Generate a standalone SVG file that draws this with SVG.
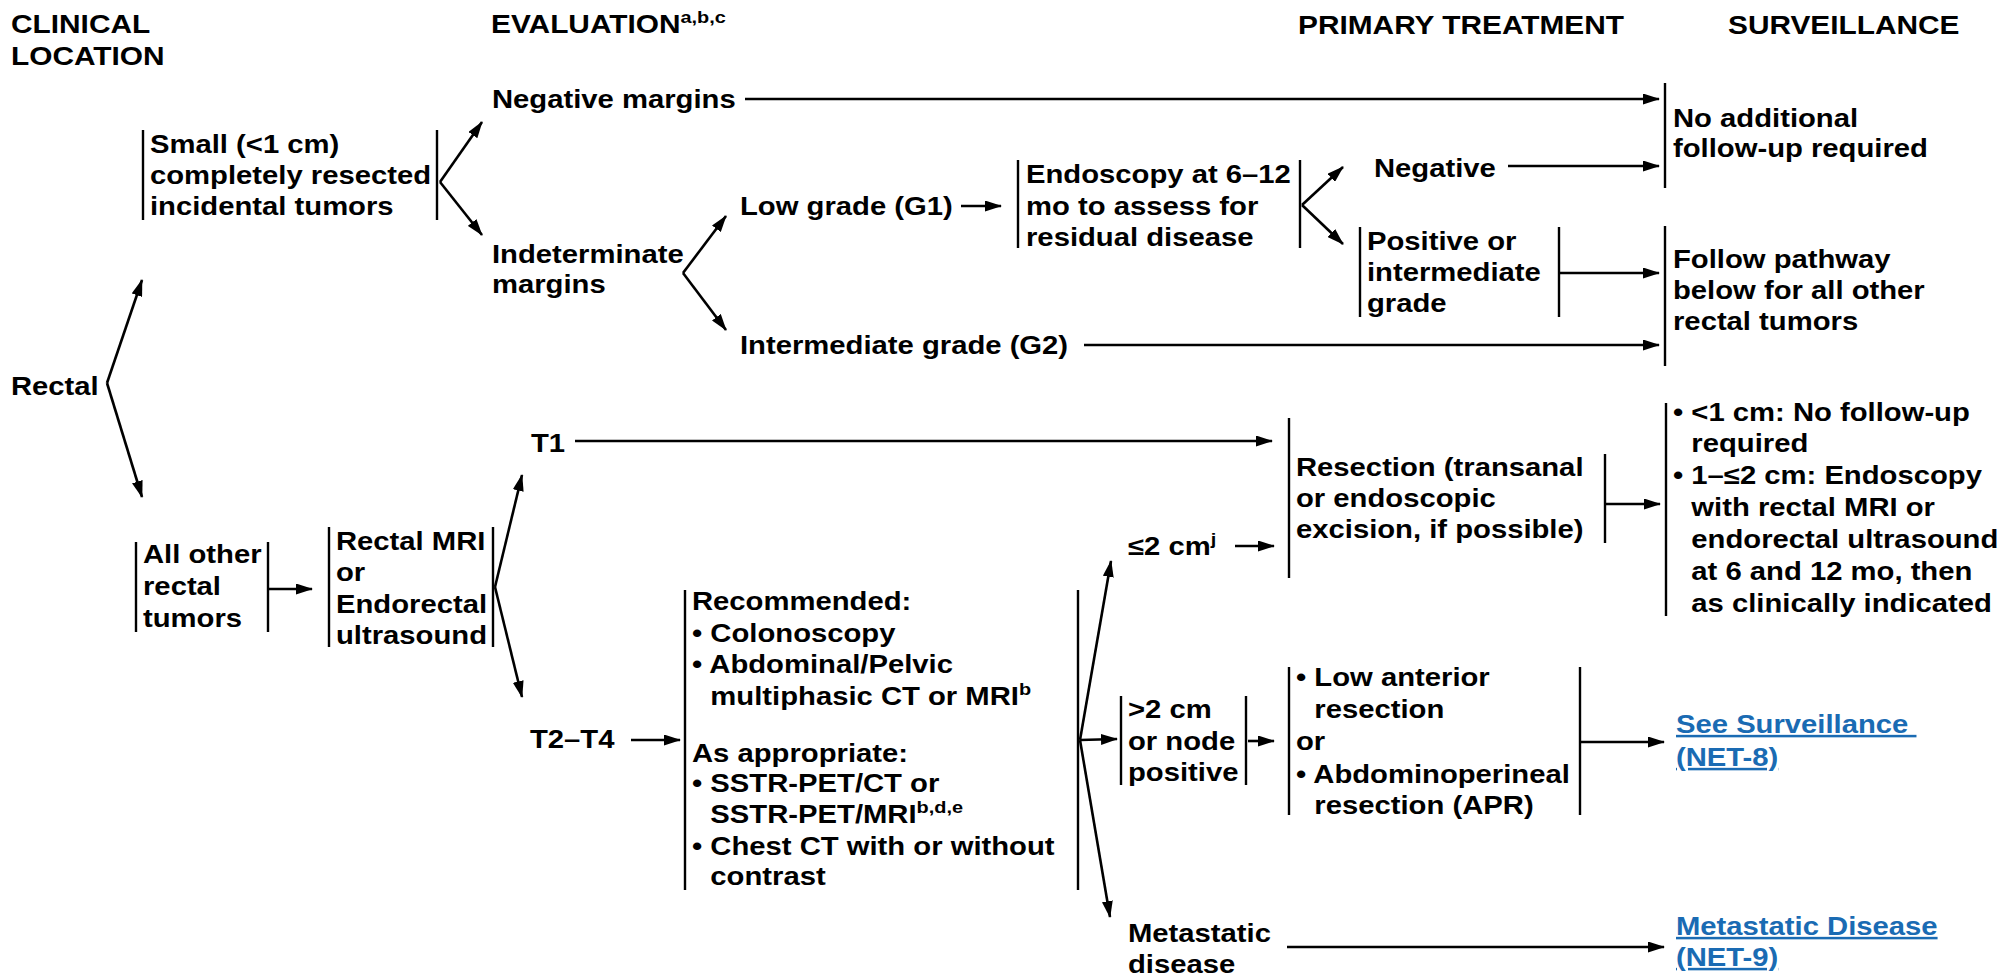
<svg xmlns="http://www.w3.org/2000/svg" width="2003" height="973" viewBox="0 0 2003 973">
<style>
  text { font-family: "Liberation Sans", Arial, sans-serif; font-weight: bold; fill: #000; }
  .t { font-size: 25px; }
  .h { font-size: 25.5px; }
  .sup { font-size: 17px; }
  .lnk { fill: #1a6bb3; text-decoration: underline; }
  .bar { stroke: #000; stroke-width: 2.4; fill: none; }
  .c { stroke: #000; stroke-width: 2.6; fill: none; marker-end: url(#ah); }
</style>
<defs>
  <marker id="ah" viewBox="0 0 17 11" refX="16" refY="5.5" markerWidth="17" markerHeight="11" markerUnits="userSpaceOnUse" orient="auto">
    <path d="M0,0 L17,5.5 L0,11 z" fill="#000"/>
  </marker>
</defs>
<rect width="2003" height="973" fill="#fff"/>

<g id="headers">
  <text class="h" transform="translate(11,33) scale(1.17,1)"><tspan x="0" y="0">CLINICAL</tspan><tspan x="0" y="32">LOCATION</tspan></text>
  <text class="h" transform="translate(491,33) scale(1.17,1)">EVALUATION<tspan class="sup" dy="-10">a,b,c</tspan></text>
  <text class="h" transform="translate(1298,34) scale(1.17,1)">PRIMARY TREATMENT</text>
  <text class="h" transform="translate(1728,34) scale(1.17,1)">SURVEILLANCE</text>
</g>

<g id="n-rectal">
  <text class="t" transform="translate(11,395) scale(1.17,1)">Rectal</text>
</g>

<g id="n-small">
  <line class="bar" x1="143" y1="130" x2="143" y2="220"/>
  <line class="bar" x1="437" y1="130" x2="437" y2="220"/>
  <text class="t" transform="translate(150,153) scale(1.17,1)"><tspan x="0" y="0">Small (&lt;1 cm)</tspan><tspan x="0" y="31">completely resected</tspan><tspan x="0" y="62">incidental tumors</tspan></text>
</g>

<g id="n-negmargins">
  <text class="t" transform="translate(492,108) scale(1.17,1)">Negative margins</text>
</g>

<g id="n-indeterminate">
  <text class="t" transform="translate(492,263) scale(1.17,1)"><tspan x="0" y="0">Indeterminate</tspan><tspan x="0" y="30">margins</tspan></text>
</g>

<g id="n-lowgrade">
  <text class="t" transform="translate(740,215) scale(1.17,1)">Low grade (G1)</text>
</g>

<g id="n-intgrade">
  <text class="t" transform="translate(740,354) scale(1.17,1)">Intermediate grade (G2)</text>
</g>

<g id="n-endoscopy">
  <line class="bar" x1="1018" y1="160" x2="1018" y2="248"/>
  <line class="bar" x1="1300" y1="160" x2="1300" y2="248"/>
  <text class="t" transform="translate(1026,183) scale(1.17,1)"><tspan x="0" y="0">Endoscopy at 6–12</tspan><tspan x="0" y="32">mo to assess for</tspan><tspan x="0" y="63">residual disease</tspan></text>
</g>

<g id="n-negative">
  <text class="t" transform="translate(1374,177) scale(1.17,1)">Negative</text>
</g>

<g id="n-positive">
  <line class="bar" x1="1360" y1="227" x2="1360" y2="317"/>
  <line class="bar" x1="1559" y1="227" x2="1559" y2="317"/>
  <text class="t" transform="translate(1367,250) scale(1.17,1)"><tspan x="0" y="0">Positive or</tspan><tspan x="0" y="31">intermediate</tspan><tspan x="0" y="62">grade</tspan></text>
</g>

<g id="n-noadditional">
  <line class="bar" x1="1665" y1="83" x2="1665" y2="188"/>
  <text class="t" transform="translate(1673,127) scale(1.17,1)"><tspan x="0" y="0">No additional</tspan><tspan x="0" y="30">follow-up required</tspan></text>
</g>

<g id="n-followpathway">
  <line class="bar" x1="1665" y1="226" x2="1665" y2="366"/>
  <text class="t" transform="translate(1673,268) scale(1.17,1)"><tspan x="0" y="0">Follow pathway</tspan><tspan x="0" y="31">below for all other</tspan><tspan x="0" y="62">rectal tumors</tspan></text>
</g>

<g id="n-allother">
  <line class="bar" x1="136" y1="542" x2="136" y2="632"/>
  <line class="bar" x1="268" y1="542" x2="268" y2="632"/>
  <text class="t" transform="translate(143,563) scale(1.17,1)"><tspan x="0" y="0">All other</tspan><tspan x="0" y="32">rectal</tspan><tspan x="0" y="64">tumors</tspan></text>
</g>

<g id="n-mri">
  <line class="bar" x1="329" y1="527" x2="329" y2="647"/>
  <line class="bar" x1="493" y1="527" x2="493" y2="647"/>
  <text class="t" transform="translate(336,550) scale(1.17,1)"><tspan x="0" y="0">Rectal MRI</tspan><tspan x="0" y="31">or</tspan><tspan x="0" y="63">Endorectal</tspan><tspan x="0" y="94">ultrasound</tspan></text>
</g>

<g id="n-t1">
  <text class="t" transform="translate(531,452) scale(1.17,1)">T1</text>
</g>

<g id="n-t2t4">
  <text class="t" transform="translate(530,748) scale(1.17,1)">T2–T4</text>
</g>

<g id="n-workup">
  <line class="bar" x1="685" y1="590" x2="685" y2="890"/>
  <line class="bar" x1="1078" y1="590" x2="1078" y2="890"/>
  <text class="t" transform="translate(692,610) scale(1.17,1)">
    <tspan x="0" y="0">Recommended:</tspan>
    <tspan x="0" y="32">• Colonoscopy</tspan>
    <tspan x="0" y="63">• Abdominal/Pelvic</tspan>
    <tspan x="15.7" y="95">multiphasic CT or MRI</tspan><tspan class="sup" dy="-10">b</tspan>
    <tspan x="0" y="152">As appropriate:</tspan>
    <tspan x="0" y="182">• SSTR-PET/CT or</tspan>
    <tspan x="15.7" y="213">SSTR-PET/MRI</tspan><tspan class="sup" dy="-10">b,d,e</tspan>
    <tspan x="0" y="245">• Chest CT with or without</tspan>
    <tspan x="15.7" y="275">contrast</tspan>
  </text>
</g>

<g id="n-le2">
  <text class="t" transform="translate(1128,555) scale(1.17,1)">≤2 cm<tspan class="sup" dy="-10">j</tspan></text>
</g>

<g id="n-gt2">
  <line class="bar" x1="1121" y1="696" x2="1121" y2="785"/>
  <line class="bar" x1="1246" y1="696" x2="1246" y2="785"/>
  <text class="t" transform="translate(1128,718) scale(1.17,1)"><tspan x="0" y="0">&gt;2 cm</tspan><tspan x="0" y="32">or node</tspan><tspan x="0" y="63">positive</tspan></text>
</g>

<g id="n-metastatic">
  <text class="t" transform="translate(1128,942) scale(1.17,1)"><tspan x="0" y="0">Metastatic</tspan><tspan x="0" y="31">disease</tspan></text>
</g>

<g id="n-resection">
  <line class="bar" x1="1289" y1="418" x2="1289" y2="578"/>
  <line class="bar" x1="1605" y1="454" x2="1605" y2="543"/>
  <text class="t" transform="translate(1296,476) scale(1.17,1)"><tspan x="0" y="0">Resection (transanal</tspan><tspan x="0" y="31">or endoscopic</tspan><tspan x="0" y="62">excision, if possible)</tspan></text>
</g>

<g id="n-lar">
  <line class="bar" x1="1289" y1="667" x2="1289" y2="815"/>
  <line class="bar" x1="1580" y1="667" x2="1580" y2="815"/>
  <text class="t" transform="translate(1296,686) scale(1.17,1)"><tspan x="0" y="0">• Low anterior</tspan><tspan x="15.7" y="32">resection</tspan><tspan x="0" y="64">or</tspan><tspan x="0" y="97">• Abdominoperineal</tspan><tspan x="15.7" y="128">resection (APR)</tspan></text>
</g>

<g id="n-surv-small">
  <line class="bar" x1="1666" y1="403" x2="1666" y2="616"/>
  <text class="t" transform="translate(1673,421) scale(1.17,1)"><tspan x="0" y="0">• &lt;1 cm: No follow-up</tspan><tspan x="15.7" y="31">required</tspan><tspan x="0" y="63">• 1–≤2 cm: Endoscopy</tspan><tspan x="15.7" y="95">with rectal MRI or</tspan><tspan x="15.7" y="127">endorectal ultrasound</tspan><tspan x="15.7" y="159">at 6 and 12 mo, then</tspan><tspan x="15.7" y="191">as clinically indicated</tspan></text>
</g>

<g id="n-net8">
  <text class="t lnk" transform="translate(1676,733) scale(1.17,1)"><tspan x="0" y="0">See Surveillance&#160;</tspan><tspan x="0" y="33">(NET-8)</tspan></text>
</g>

<g id="n-net9">
  <text class="t lnk" transform="translate(1676,935) scale(1.17,1)"><tspan x="0" y="0">Metastatic Disease</tspan><tspan x="0" y="31">(NET-9)</tspan></text>
</g>

<g id="connectors">
  <path class="c" d="M107,383 L142,280"/>
  <path class="c" d="M107,383 L142,497"/>
  <path class="c" d="M440,182 L482,122"/>
  <path class="c" d="M440,182 L482,235"/>
  <path class="c" d="M745,99 L1659,99"/>
  <path class="c" d="M683,273 L726,216"/>
  <path class="c" d="M683,273 L726,330"/>
  <path class="c" d="M961,206 L1001,206"/>
  <path class="c" d="M1302,205 L1343,167"/>
  <path class="c" d="M1302,205 L1343,244"/>
  <path class="c" d="M1508,166 L1659,166"/>
  <path class="c" d="M1559,273 L1659,273"/>
  <path class="c" d="M1084,345 L1659,345"/>
  <path class="c" d="M268,589 L312,589"/>
  <path class="c" d="M495,587 L522,475"/>
  <path class="c" d="M495,587 L522,697"/>
  <path class="c" d="M575,441 L1272,441"/>
  <path class="c" d="M631,740 L680,740"/>
  <path class="c" d="M1080,740 L1111,561"/>
  <path class="c" d="M1080,740 L1117,739"/>
  <path class="c" d="M1080,740 L1110,917"/>
  <path class="c" d="M1235,546 L1274,546"/>
  <path class="c" d="M1248,741 L1274,741"/>
  <path class="c" d="M1605,504 L1660,504"/>
  <path class="c" d="M1580,742 L1664,742"/>
  <path class="c" d="M1287,947 L1664,947"/>
</g>
</svg>
